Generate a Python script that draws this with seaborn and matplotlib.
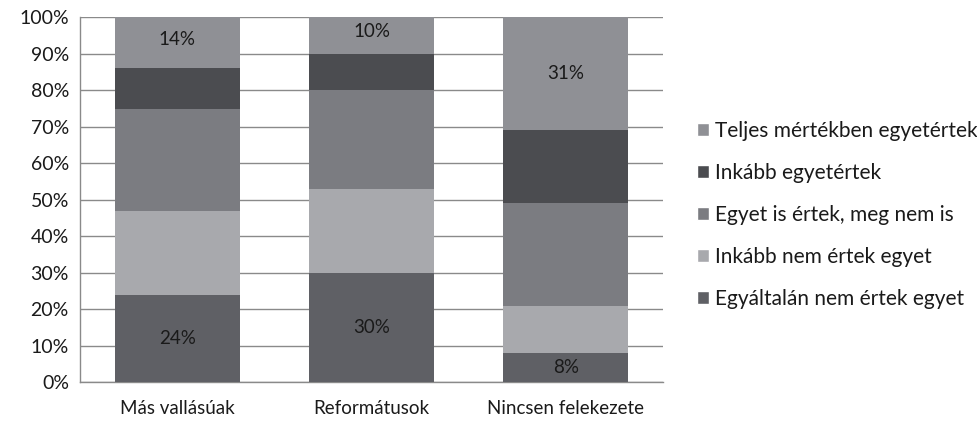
import numpy as np
import pandas as pd
import matplotlib.pyplot as plt
import seaborn as sns
from matplotlib.patches import Patch

categories = ["Más vallásúak", "Reformátusok", "Nincsen felekezete"]
series = ["Egyáltalán nem értek egyet", "Inkább nem értek egyet",
          "Egyet is értek, meg nem is", "Inkább egyetértek",
          "Teljes mértékben egyetértek"]
egyaltalan = [24, 30, 8]
inkabb_nem = [23, 23, 13]
egyet_is = [28, 27, 28]
inkabb_egyet = [11, 10, 20]
teljes = [14, 10, 31]
colors = ["#5f6065", "#a8a9ad", "#7b7c81", "#4b4c50", "#8f9095"]

values = np.array([egyaltalan, inkabb_nem, egyet_is, inkabb_egyet, teljes], dtype=float)
cum = values.cumsum(axis=0)

sns.set_style("white")
plt.rcParams["font.family"] = ["Lato", "DejaVu Sans"]
txt_color = "#1a1a1a"

fig = plt.figure(figsize=(9.78, 4.24), dpi=100)
ax = fig.add_axes([0.0818, 0.0983, 0.596, 0.861])

# draw cumulative totals from the top down so lower layers overlay higher ones
for i in range(len(series) - 1, -1, -1):
    df = pd.DataFrame({"cat": categories, "val": cum[i]})
    sns.barplot(data=df, x="cat", y="val", color=colors[i], width=0.644,
                saturation=1, linewidth=0, edgecolor="none", ax=ax,
                zorder=3 + (len(series) - i))

# value labels
labels = {(0, 0): "24%", (4, 0): "14%", (0, 1): "30%", (4, 1): "10%",
          (0, 2): "8%", (4, 2): "31%"}
for (s, c), txt in labels.items():
    base = cum[s - 1][c] if s > 0 else 0
    y = base + values[s][c] / 2
    if s == 4 and c != 2:
        y = base + values[s][c] / 2 + 1
    ax.text(c, y, txt, ha="center", va="center", fontsize=13.5, color=txt_color, zorder=20)

ax.set_ylim(0, 100)
ax.set_xlim(-0.5, 2.5)
ax.set_yticks(range(0, 101, 10))
ax.set_yticklabels([f"{v}%" for v in range(0, 101, 10)], fontsize=14, color=txt_color)
ax.tick_params(axis="x", labelsize=13.5, pad=13, length=0, labelcolor=txt_color)
ax.tick_params(axis="y", length=0, pad=8)
ax.set_xlabel("")
ax.set_ylabel("")
ax.yaxis.grid(True, color="#8a8a8a", linewidth=1)
ax.set_axisbelow(True)
for side in ["top", "right"]:
    ax.spines[side].set_visible(False)
for side in ["left", "bottom"]:
    ax.spines[side].set_color("#8a8a8a")
    ax.spines[side].set_linewidth(1)

handles = [Patch(facecolor=colors[i], label=series[i]) for i in range(len(series) - 1, -1, -1)]
leg = fig.legend(handles=handles, loc="center left", bbox_to_anchor=(0.704, 0.493),
                 frameon=False, fontsize=15, handlelength=0.6, handleheight=0.6,
                 handletextpad=0.25, labelspacing=1.05, borderaxespad=0)
for t in leg.get_texts():
    t.set_color(txt_color)

fig.savefig("out.png", dpi=100)
